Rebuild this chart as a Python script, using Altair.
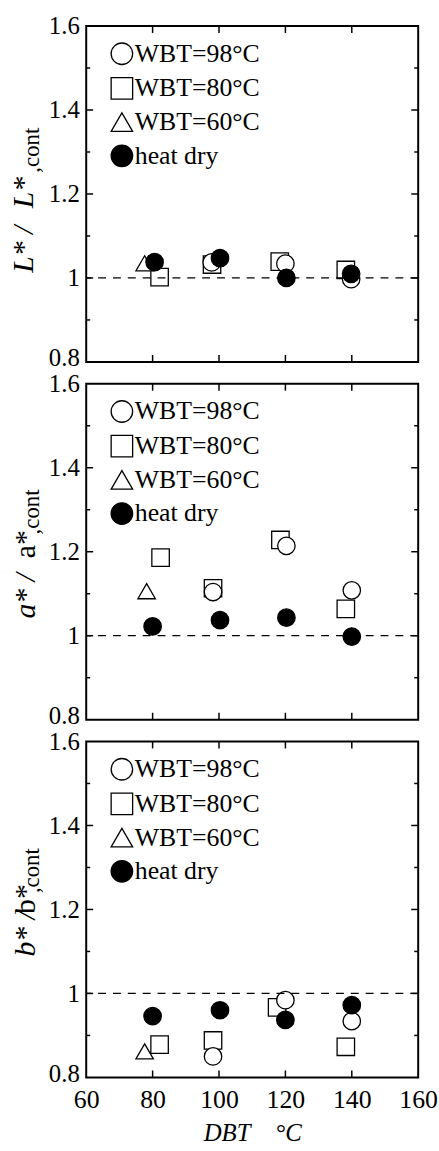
import altair as alt
import pandas as pd

SERIF = "Liberation Serif"

SERIES = ["WBT=98°C", "WBT=80°C", "WBT=60°C", "heat dry"]
SHAPES = ["circle", "square", "triangle-up", "circle"]
FILLS = ["white", "white", "white", "black"]
STROKES = ["black", "black", "black", "black"]

# L*/L*,cont
L_98_X = [97.8, 120.0, 139.8]
L_98_Y = [1.037, 1.034, 0.997]
L_80_X = [82.1, 97.9, 118.3, 138.2]
L_80_Y = [1.002, 1.032, 1.039, 1.019]
L_60_X = [77.6]
L_60_Y = [1.035]
L_HD_X = [80.6, 100.3, 120.3, 139.8]
L_HD_Y = [1.038, 1.047, 1.000, 1.010]

# a*/a*,cont
A_98_X = [98.2, 120.3, 140.0]
A_98_Y = [1.104, 1.214, 1.108]
A_80_X = [82.4, 98.2, 118.5, 138.2]
A_80_Y = [1.186, 1.113, 1.228, 1.064]
A_60_X = [78.2]
A_60_Y = [1.106]
A_HD_X = [80.0, 100.3, 120.3, 140.0]
A_HD_Y = [1.022, 1.037, 1.043, 0.998]

# b*/b*,cont
B_98_X = [98.2, 120.0, 140.0]
B_98_Y = [0.850, 0.984, 0.934]
B_80_X = [82.1, 98.2, 117.5, 138.2]
B_80_Y = [0.878, 0.888, 0.967, 0.873]
B_60_X = [77.6]
B_60_Y = [0.862]
B_HD_X = [80.0, 100.3, 120.0, 140.0]
B_HD_Y = [0.946, 0.960, 0.937, 0.972]

X_TICKS = [80, 100, 120, 140]
X_LABELS = [60, 80, 100, 120, 140, 160]
Y_LABELS = [0.8, 1.0, 1.2, 1.4, 1.6]
Y_MAJOR = [1.0, 1.2, 1.4]
Y_MINOR = [0.9, 1.1, 1.3, 1.5]
REF_LINE = [1.0]

W, H = 335, 339
MAJOR_LEN, MINOR_LEN, XTICK_LEN = 7, 4, 7


def frame(series_xy):
    # squares first, then triangles, open circles and filled circles on top
    order = [1, 2, 0, 3]
    rows = []
    for i in order:
        xs, ys = series_xy[i]
        for x, y in zip(xs, ys):
            rows.append({"dbt": x, "ratio": y, "series": SERIES[i]})
    return pd.DataFrame(rows)


def panel(df, frags, bottom):
    xscale = alt.Scale(domain=[60, 160], nice=False, zero=False)
    yscale = alt.Scale(domain=[0.8, 1.6], nice=False, zero=False)

    # lift the bottom label a little so it clears the next panel's top label
    yaxis = alt.Axis(values=Y_LABELS, format="~g", ticks=False, domain=False,
                     grid=False, labelFont=SERIF, labelFontSize=25,
                     labelColor="black", labelPadding=7, title=None,
                     labelOverlap=False,
                     labelOffset={"condition": {"test": "datum.value < 0.85",
                                                "value": -4}, "value": 0})
    if bottom:
        xaxis = alt.Axis(values=X_LABELS, ticks=False, domain=False, grid=False,
                         labelFont=SERIF, labelFontSize=26, labelColor="black",
                         labelPadding=9, labelFlush=False, labelOverlap=False,
                         title="DBT\u00a0\u00a0\u00a0\u00a0°C", titleFont=SERIF,
                         titleFontSize=25, titleFontStyle="italic",
                         titleFontWeight="normal", titleColor="black",
                         titlePadding=9)
    else:
        xaxis = alt.Axis(values=X_LABELS, ticks=False, domain=False, grid=False,
                         labels=False, title=None)

    legend = alt.Legend(title=None, orient="none", legendX=23, legendY=15,
                        labelFont=SERIF, labelFontSize=26, labelColor="black",
                        symbolSize=470, symbolStrokeWidth=1.3, rowPadding=7,
                        labelOffset=0, padding=0)

    ref = alt.Chart(pd.DataFrame({"v": REF_LINE})).mark_rule(
        color="black", strokeWidth=1.2, strokeDash=[8, 7]
    ).encode(y=alt.Y("v:Q", scale=yscale, axis=yaxis))

    def yticks(vals, x0, x1):
        return alt.Chart(pd.DataFrame({"v": vals})).mark_rule(
            color="black", strokeWidth=1.5
        ).encode(y=alt.Y("v:Q", scale=yscale, axis=yaxis),
                 x=alt.value(x0), x2=alt.value(x1))

    def xticks(y0, y1):
        return alt.Chart(pd.DataFrame({"v": X_TICKS})).mark_rule(
            color="black", strokeWidth=1.5
        ).encode(x=alt.X("v:Q", scale=xscale, axis=xaxis),
                 y=alt.value(y0), y2=alt.value(y1))

    ticks = [
        yticks(Y_MAJOR, 0, MAJOR_LEN), yticks(Y_MINOR, 0, MINOR_LEN),
        yticks(Y_MAJOR, W, W - MAJOR_LEN), yticks(Y_MINOR, W, W - MINOR_LEN),
        xticks(0, XTICK_LEN), xticks(H, H - XTICK_LEN),
    ]

    points = alt.Chart(df).mark_point(
        filled=True, strokeWidth=1.3, size=310, opacity=1
    ).encode(
        x=alt.X("dbt:Q", scale=xscale, axis=xaxis),
        y=alt.Y("ratio:Q", scale=yscale, axis=yaxis),
        shape=alt.Shape("series:N", scale=alt.Scale(domain=SERIES, range=SHAPES),
                        legend=legend),
        fill=alt.Fill("series:N", scale=alt.Scale(domain=SERIES, range=FILLS),
                      legend=legend),
        stroke=alt.Stroke("series:N", scale=alt.Scale(domain=SERIES, range=STROKES),
                          legend=legend),
    )

    texts = []
    for text, y0, x0, size, italic in frags:
        texts.append(
            alt.Chart(pd.DataFrame({"t": [text]})).mark_text(
                angle=270, align="left", baseline="alphabetic", font=SERIF,
                fontSize=size, fontStyle="italic" if italic else "normal",
                color="black"
            ).encode(x=alt.value(x0), y=alt.value(y0), text="t:N")
        )

    return alt.layer(points, ref, *ticks, *texts).properties(width=W, height=H)


p1 = panel(
    frame([(L_98_X, L_98_Y), (L_80_X, L_80_Y), (L_60_X, L_60_Y), (L_HD_X, L_HD_Y)]),
    [("L* /", 249, -54, 30, True), ("L*", 184, -54, 30, True),
     (",cont", 148, -48, 23, False)],
    False,
)
p2 = panel(
    frame([(A_98_X, A_98_Y), (A_80_X, A_80_Y), (A_60_X, A_60_Y), (A_HD_X, A_HD_Y)]),
    [("a* /", 237, -52, 30, True), ("a*", 176, -52, 30, False),
     (",cont", 152, -48, 23, False)],
    False,
)
p3 = panel(
    frame([(B_98_X, B_98_Y), (B_80_X, B_80_Y), (B_60_X, B_60_Y), (B_HD_X, B_HD_Y)]),
    [("b* /", 217, -52, 30, True), ("b*", 174, -52, 30, False),
     (",cont", 153, -48, 23, False)],
    True,
)

chart = alt.vconcat(p1, p2, p3, spacing=22, bounds="flush").resolve_scale(
    shape="independent", fill="independent", stroke="independent"
).resolve_legend(
    shape="independent", fill="independent", stroke="independent"
).properties(
    padding={"left": 8, "top": 8, "right": 0, "bottom": 0},
    background="white",
).configure_view(
    stroke="black", strokeWidth=2
)

chart.save("out.html", embed_options={"renderer": "svg", "actions": False})
